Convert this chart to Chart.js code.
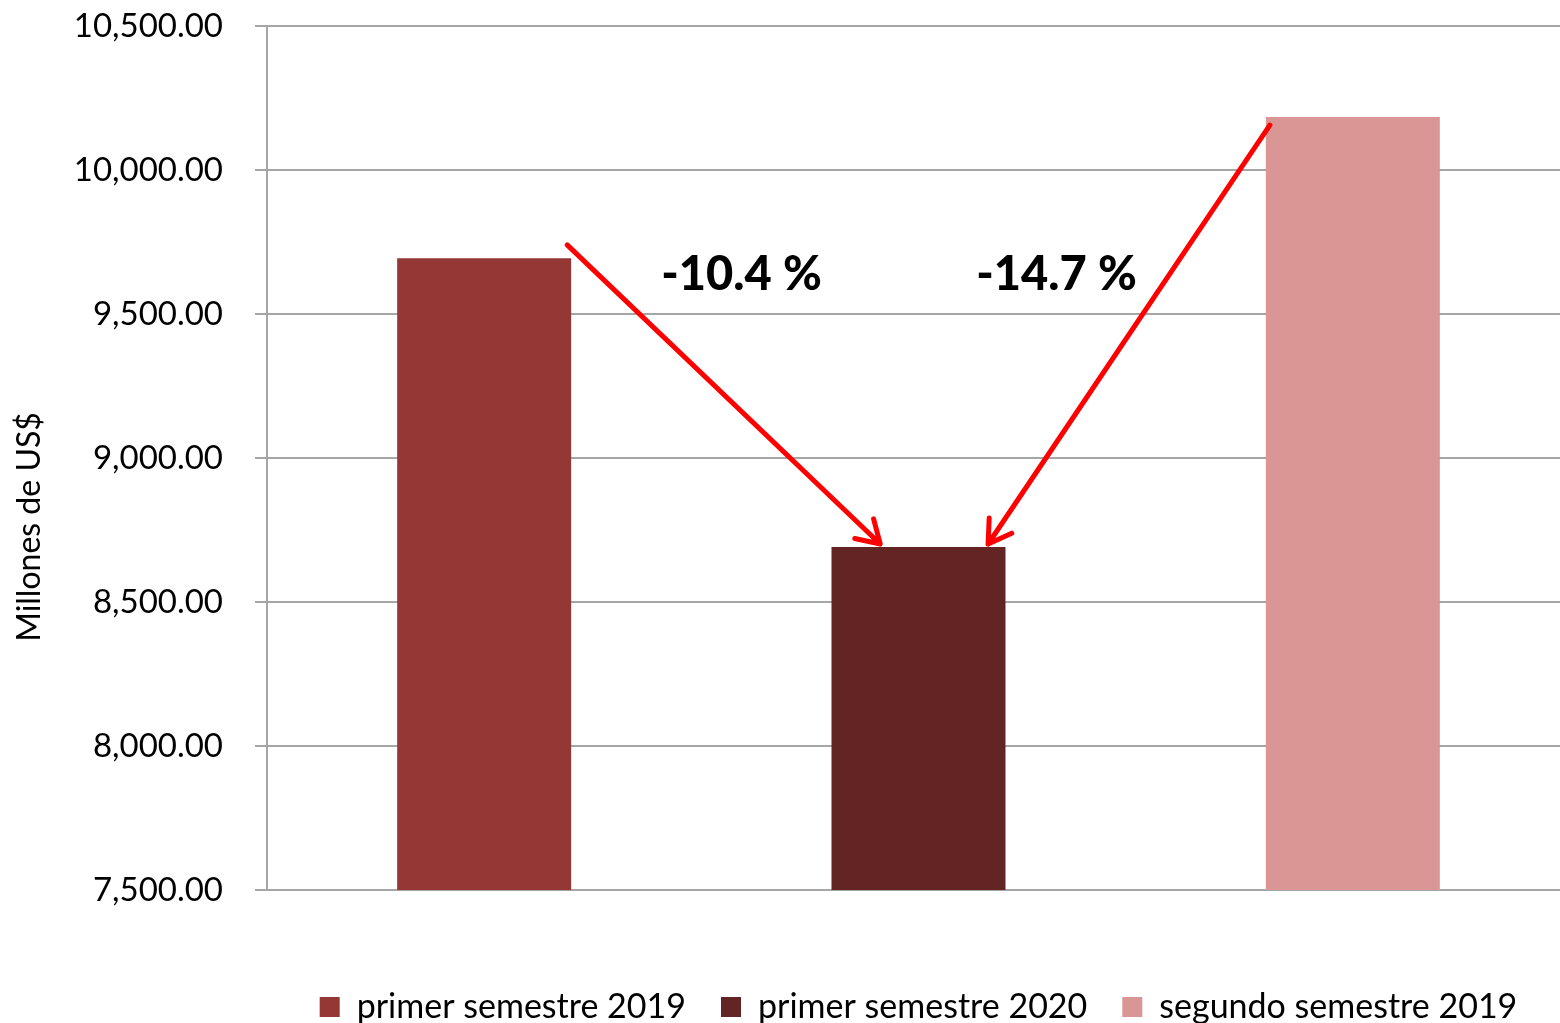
<!DOCTYPE html>
<html>
<head>
<meta charset="utf-8">
<style>
  html, body { margin: 0; padding: 0; background: #fff; overflow: hidden; }
  #wrap { width: 1570px; height: 1023px; position: relative; }
</style>
</head>
<body>
<div id="wrap">
  <canvas id="myChart"></canvas>
</div>

<script src="https://cdn.jsdelivr.net/npm/chart.js"></script>

<script>
// data (millones de US$)
const seriesNames = ['primer semestre 2019', 'primer semestre 2020', 'segundo semestre 2019'];
const seriesValues = [9694, 8691, 10184];
const seriesColors = ['#953735', '#632523', '#D99694'];
const changeLabels = ['-10.4 %', '-14.7 %'];
const yTitle = 'Millones de US$';

const FONT = 'Lato, "Open Sans", sans-serif';
const ctx = document.getElementById('myChart');

// arrows + percentage labels + rotated axis title
const annotate = {
  id: 'annotate',
  afterDatasetsDraw(chart) {
    const c = chart.ctx;
    const y = chart.scales.y;
    const b1 = chart.getDatasetMeta(0).data[0];
    const b2 = chart.getDatasetMeta(1).data[0];
    const b3 = chart.getDatasetMeta(2).data[0];

    const arrow = (x0, y0, x1, y1) => {
      c.save();
      c.strokeStyle = '#FF0000';
      c.lineWidth = 5;
      c.lineCap = 'round';
      c.lineJoin = 'round';
      c.beginPath();
      c.moveTo(x0, y0);
      c.lineTo(x1, y1);
      const a = Math.atan2(y1 - y0, x1 - x0);
      const L = 26, sp = 0.55;
      c.moveTo(x1 - L * Math.cos(a - sp), y1 - L * Math.sin(a - sp));
      c.lineTo(x1, y1);
      c.lineTo(x1 - L * Math.cos(a + sp), y1 - L * Math.sin(a + sp));
      c.stroke();
      c.restore();
    };

    arrow(b1.x + b1.width / 2 - 4, y.getPixelForValue(9740), b2.x - b2.width * 0.22, b2.y - 3);
    arrow(b3.x - b3.width / 2 + 4, y.getPixelForValue(10156), b2.x + b2.width * 0.4, b2.y - 3);

    c.save();
    c.fillStyle = '#000';
    c.font = '900 47px ' + FONT;
    c.textAlign = 'center';
    c.textBaseline = 'middle';
    c.fillText(changeLabels[0], b2.x - 177, y.getPixelForValue(9635));
    c.fillText(changeLabels[1], b2.x + 138, y.getPixelForValue(9635));
    c.restore();

    c.save();
    c.translate(30, 527);
    c.rotate(-Math.PI / 2);
    c.fillStyle = '#000';
    c.font = '32px ' + FONT;
    c.textAlign = 'center';
    c.textBaseline = 'middle';
    c.fillText(yTitle, 0, 0);
    c.restore();
  }
};

new Chart(ctx, {
  type: 'bar',
  data: {
    labels: [''],
    datasets: seriesNames.map((name, i) => ({
      label: name,
      data: [seriesValues[i]],
      backgroundColor: seriesColors[i],
      borderWidth: 0
    }))
  },
  options: {
    responsive: true,
    maintainAspectRatio: false,
    animation: false,
    categoryPercentage: 1.0,
    barPercentage: 0.4006,
    layout: { padding: { top: 26, right: 0, left: 0, bottom: -11 } },
    plugins: {
      legend: {
        position: 'bottom',
        fullSize: false,
        labels: {
          font: { family: FONT, size: 34 },
          color: '#000',
          boxWidth: 20,
          boxHeight: 20,
          padding: 35
        }
      },
      tooltip: { enabled: false }
    },
    scales: {
      x: {
        grid: { display: false },
        border: { display: true, color: '#A6A6A6', width: 2 },
        ticks: { display: false },
        afterFit(scale) { scale.height = 65; }
      },
      y: {
        min: 7500,
        max: 10500,
        ticks: {
          stepSize: 500,
          color: '#000',
          font: { family: FONT, size: 33 },
          padding: 32,
          callback: v => v.toLocaleString('en-US', { minimumFractionDigits: 2, maximumFractionDigits: 2 })
        },
        grid: { color: '#A6A6A6', lineWidth: 2, tickLength: 12 },
        border: { color: '#A6A6A6', width: 2 },
        afterFit(scale) {
          scale.width = 267;
          scale.paddingTop = 20;
          scale.paddingBottom = 20;
        }
      }
    }
  },
  plugins: [annotate]
});
</script>
</body>
</html>
